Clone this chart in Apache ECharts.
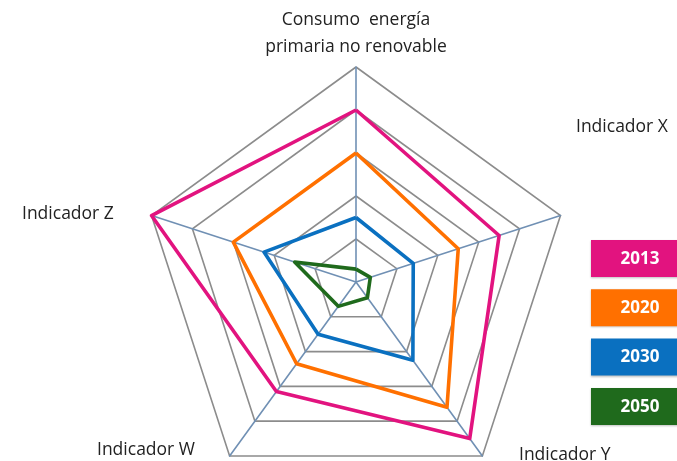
<!DOCTYPE html>
<html>
<head>
<meta charset="utf-8">
<script src="https://cdn.jsdelivr.net/npm/echarts@6/dist/echarts.min.js"></script>
<style>
  html, body { margin: 0; padding: 0; background: #fff; }
  #chart { width: 677px; height: 461px; }
</style>
</head>
<body>
<div id="chart"></div>
<script>
// Radar axes, listed counterclockwise from the top axis
const indicators = ['Consumo  energía\nprimaria no renovable', 'Indicador Z', 'Indicador W', 'Indicador Y', 'Indicador X'];
const years = ['2013', '2020', '2030', '2050'];
const colors = ['#e2137f', '#ff7000', '#0a70c0', '#1f6a1c'];
const values2013 = [80, 100, 63, 90, 70];
const values2020 = [60, 60, 47, 72, 50];
const values2030 = [30, 45, 30, 45, 28];
const values2050 = [6, 30, 14, 9, 7];
const seriesValues = [values2013, values2020, values2030, values2050];
const axisMax = 100;

// Axis name placement (text anchor x, y, alignment)
const namePos = [
  { x: 356, y: 34, align: 'center' },
  { x: 22,  y: 214, align: 'left' },
  { x: 97,  y: 450, align: 'left' },
  { x: 519, y: 455, align: 'left' },
  { x: 576, y: 127, align: 'left' }
];

const chart = echarts.init(document.getElementById('chart'), null, { renderer: 'canvas' });

const textFont = '"Open Sans", "DejaVu Sans", sans-serif';

const nameGraphics = indicators.map((name, i) => ({
  type: 'text',
  x: namePos[i].x,
  y: namePos[i].y,
  style: {
    text: name,
    font: '17.5px ' + textFont,
    fill: '#222222',
    align: namePos[i].align,
    verticalAlign: 'middle',
    lineHeight: 27
  }
}));

const legendGraphics = years.map((y, i) => ({
  type: 'group',
  x: 591,
  y: 240 + i * 49.3,
  children: [
    { type: 'rect', shape: { x: 0, y: 0, width: 100, height: 37 }, style: { fill: colors[i], shadowBlur: 2, shadowColor: 'rgba(0,0,0,0.25)', shadowOffsetY: 1 } },
    { type: 'text', x: 49, y: 19, style: { text: y, font: 'bold 17px ' + textFont, fill: '#ffffff', align: 'center', verticalAlign: 'middle' } }
  ]
}));

chart.setOption({
  animation: false,
  backgroundColor: '#ffffff',
  radar: {
    center: [356, 282],
    radius: 215,
    startAngle: 90,
    shape: 'polygon',
    splitNumber: 5,
    indicator: indicators.map(n => ({ name: n, min: 0, max: axisMax })),
    axisName: { show: false },
    splitArea: { show: false },
    splitLine: { lineStyle: { color: '#8c8c8c', width: 1.6 } },
    axisLine: { lineStyle: { color: '#7090b4', width: 1.6 } },
    axisTick: { show: false },
    axisLabel: { show: false }
  },
  series: [{
    type: 'radar',
    symbol: 'none',
    data: years.map((y, i) => ({
      name: y,
      value: seriesValues[i],
      lineStyle: { color: colors[i], width: 3.6 },
      itemStyle: { color: colors[i] }
    }))
  }],
  graphic: nameGraphics.concat(legendGraphics)
});
</script>
</body>
</html>
